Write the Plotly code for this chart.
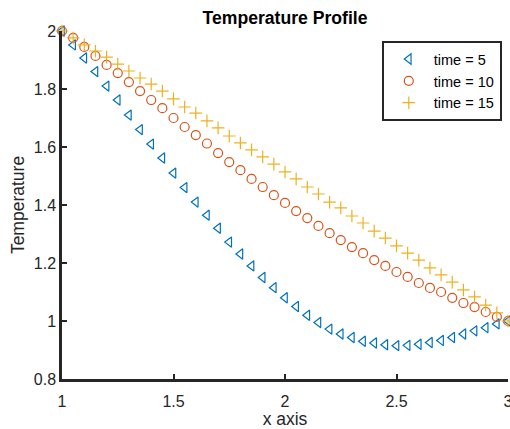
import plotly.graph_objects as go

x_vals = [round(1 + 0.05 * i, 2) for i in range(41)]

temp_t5 = [2.0, 1.952, 1.907, 1.86, 1.81, 1.762, 1.71, 1.66, 1.61, 1.562,
           1.51, 1.46, 1.41, 1.365, 1.32, 1.272, 1.231, 1.19, 1.15, 1.115,
           1.08, 1.05, 1.02, 0.995, 0.972, 0.955, 0.943, 0.93, 0.924, 0.918,
           0.915, 0.916, 0.92, 0.926, 0.933, 0.943, 0.955, 0.966, 0.977, 0.99, 1.0]
temp_t10 = [2.0, 1.976, 1.945, 1.914, 1.883, 1.855, 1.824, 1.793, 1.762, 1.734,
            1.70, 1.669, 1.641, 1.612, 1.579, 1.548, 1.52, 1.49, 1.462, 1.434,
            1.407, 1.379, 1.355, 1.328, 1.303, 1.279, 1.255, 1.234, 1.21, 1.19,
            1.169, 1.152, 1.131, 1.114, 1.10, 1.08, 1.062, 1.048, 1.031, 1.014, 1.0]
temp_t15 = [2.0, 1.976, 1.952, 1.931, 1.91, 1.886, 1.862, 1.838, 1.817, 1.793,
            1.766, 1.738, 1.717, 1.69, 1.666, 1.638, 1.614, 1.59, 1.566, 1.541,
            1.514, 1.49, 1.462, 1.438, 1.41, 1.39, 1.362, 1.338, 1.31, 1.286,
            1.259, 1.234, 1.21, 1.183, 1.159, 1.134, 1.107, 1.083, 1.055, 1.028, 1.0]

series_names = ["time = 5", "time = 10", "time = 15"]
x_ticks = [1, 1.5, 2, 2.5, 3]
y_ticks = [0.8, 1, 1.2, 1.4, 1.6, 1.8, 2]

font_family = "Liberation Sans, Arial, sans-serif"
axis_color = "#262626"

fig = go.Figure()
fig.add_trace(go.Scatter(x=x_vals, y=temp_t5, mode="markers", name=series_names[0],
                         marker=dict(symbol="triangle-left-open", size=9, color="#0072BD",
                                     line=dict(width=1.2)), cliponaxis=False))
fig.add_trace(go.Scatter(x=x_vals, y=temp_t10, mode="markers", name=series_names[1],
                         marker=dict(symbol="circle-open", size=9, color="#D95319",
                                     line=dict(width=1.2)), cliponaxis=False))
fig.add_trace(go.Scatter(x=x_vals, y=temp_t15, mode="markers", name=series_names[2],
                         marker=dict(symbol="cross-thin-open", size=9, color="#EDB120",
                                     line=dict(width=1.2, color="#EDB120")), cliponaxis=False))

fig.update_layout(
    width=510, height=429,
    margin=dict(l=62, r=2, t=31, b=50, autoexpand=False),
    paper_bgcolor="white", plot_bgcolor="white",
    font=dict(family=font_family, size=16, color=axis_color),
    title=dict(text="<b>Temperature Profile</b>", x=0.5, xref="paper", xanchor="center",
               y=0.958, yref="container", yanchor="middle",
               font=dict(size=17.6, color="black")),
    showlegend=True,
    legend=dict(x=0.717, y=0.971, xanchor="left", yanchor="top",
                bordercolor=axis_color, borderwidth=2, bgcolor="white",
                font=dict(size=14.5, color="black"), itemwidth=40),
)
fig.update_xaxes(range=[1, 3], tickvals=x_ticks, ticktext=[str(v) for v in x_ticks],
                 showgrid=False, zeroline=False, showline=True, linecolor=axis_color,
                 linewidth=2.5, ticks="inside", ticklen=5, tickwidth=2, tickcolor=axis_color,
                 automargin=False, ticklabelstandoff=6, ticklabeloverflow="allow",
                 title=dict(text="x axis", standoff=5, font=dict(size=17.5)),
                 tickfont=dict(size=16, color=axis_color))
fig.update_yaxes(range=[0.8, 2], tickvals=y_ticks, ticktext=[str(v) for v in y_ticks],
                 showgrid=False, zeroline=False, showline=True, linecolor=axis_color,
                 linewidth=2.5, ticks="inside", ticklen=5, tickwidth=2, tickcolor=axis_color,
                 automargin=False, ticklabeloverflow="allow",
                 title=dict(text="Temperature", standoff=5, font=dict(size=17.5)),
                 tickfont=dict(size=16, color=axis_color))

fig.write_html("out.html", config={"displayModeBar": False},
               post_script="document.body.style.margin='0';")
